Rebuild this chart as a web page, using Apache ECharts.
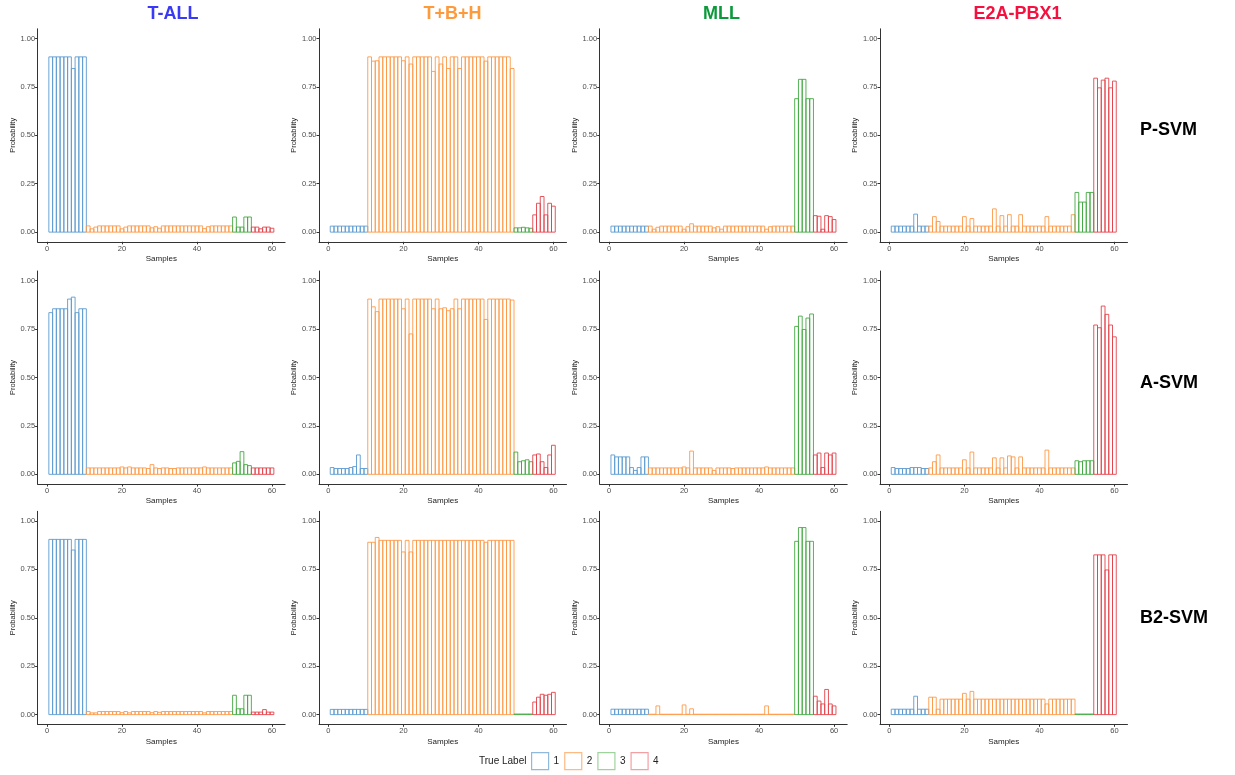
<!DOCTYPE html>
<html><head><meta charset="utf-8">
<script src="https://cdn.jsdelivr.net/npm/echarts@6/dist/echarts.min.js"></script>
<style>html,body{margin:0;padding:0;background:#fff}#c{width:1235px;height:775px}</style>
</head><body><div id="c"></div>
<script>
const samples = [1,2,3,4,5,6,7,8,9,10,11,12,13,14,15,16,17,18,19,20,21,22,23,24,25,26,27,28,29,30,31,32,33,34,35,36,37,38,39,40,41,42,43,44,45,46,47,48,49,50,51,52,53,54,55,56,57,58,59,60];
const trueLabel = [1,1,1,1,1,1,1,1,1,1,
  2,2,2,2,2,2,2,2,2,2,2,2,2,2,2,2,2,2,2,2,2,2,2,2,2,2,2,2,2,2,2,2,2,2,2,2,2,2,2,
  3,3,3,3,3, 4,4,4,4,4,4];
const columnTitles = ['T-ALL','T+B+H','MLL','E2A-PBX1'];
const rowTitles = ['P-SVM','A-SVM','B2-SVM'];
const legendLabels = ['1','2','3','4'];
const xTicks = [0,20,40,60];
const yTicks = [0,0.25,0.5,0.75,1];

// P-SVM
const pSVM_TALL = [0.905,0.905,0.905,0.905,0.905,0.905,0.845,0.905,0.905,0.905,
  0.032,0.017,0.026,0.032,0.032,0.032,0.032,0.032,0.032,0.017,0.026,0.032,0.032,0.032,0.032,0.032,0.032,0.022,0.028,0.020,
  0.032,0.032,0.032,0.032,0.032,0.032,0.032,0.032,0.032,0.032,0.032,0.018,0.028,0.032,0.032,0.032,0.032,0.032,0.032,
  0.078,0.026,0.026,0.078,0.078, 0.026,0.026,0.017,0.026,0.026,0.020];
const pSVM_TBH = [0.031,0.031,0.031,0.031,0.031,0.031,0.031,0.031,0.031,0.031,
  0.905,0.883,0.885,0.905,0.905,0.905,0.905,0.905,0.905,0.885,0.905,0.868,0.905,0.905,0.905,0.905,0.905,0.830,0.905,0.868,
  0.905,0.845,0.905,0.905,0.845,0.905,0.905,0.905,0.905,0.905,0.905,0.883,0.905,0.905,0.905,0.905,0.905,0.905,0.845,
  0.022,0.022,0.025,0.022,0.020, 0.089,0.149,0.184,0.089,0.149,0.134];
const pSVM_MLL = [0.031,0.031,0.031,0.031,0.031,0.031,0.031,0.031,0.031,0.031,
  0.031,0.015,0.025,0.031,0.031,0.031,0.031,0.031,0.031,0.015,0.028,0.043,0.031,0.031,0.031,0.031,0.031,0.022,0.028,0.015,
  0.031,0.031,0.031,0.031,0.031,0.031,0.031,0.031,0.031,0.031,0.031,0.015,0.028,0.031,0.031,0.031,0.031,0.031,0.031,
  0.689,0.789,0.789,0.689,0.689, 0.085,0.082,0.015,0.085,0.080,0.065];
const pSVM_E2A = [0.031,0.031,0.031,0.031,0.031,0.031,0.093,0.031,0.031,0.031,
  0.031,0.080,0.055,0.031,0.031,0.031,0.031,0.031,0.031,0.080,0.031,0.070,0.031,0.031,0.031,0.031,0.031,0.120,0.031,0.085,
  0.031,0.090,0.031,0.031,0.090,0.031,0.031,0.031,0.031,0.031,0.031,0.080,0.031,0.031,0.031,0.031,0.031,0.031,0.090,
  0.205,0.155,0.155,0.205,0.205, 0.795,0.745,0.785,0.795,0.745,0.780];
// A-SVM
const aSVM_TALL = [0.835,0.855,0.855,0.855,0.855,0.905,0.915,0.835,0.855,0.855,
  0.033,0.033,0.033,0.033,0.033,0.033,0.033,0.033,0.033,0.038,0.033,0.038,0.033,0.033,0.033,0.033,0.030,0.050,0.033,0.030,
  0.033,0.033,0.030,0.030,0.033,0.033,0.033,0.033,0.033,0.033,0.033,0.038,0.033,0.033,0.033,0.033,0.033,0.033,0.033,
  0.059,0.067,0.117,0.050,0.045, 0.033,0.033,0.033,0.033,0.033,0.033];
const aSVM_TBH = [0.035,0.030,0.030,0.030,0.030,0.035,0.040,0.100,0.030,0.030,
  0.905,0.865,0.840,0.905,0.905,0.905,0.905,0.905,0.905,0.855,0.905,0.725,0.905,0.905,0.905,0.905,0.905,0.855,0.905,0.855,
  0.860,0.845,0.855,0.905,0.855,0.905,0.905,0.905,0.905,0.905,0.905,0.800,0.905,0.905,0.905,0.905,0.905,0.905,0.900,
  0.115,0.065,0.070,0.075,0.065, 0.100,0.105,0.065,0.035,0.100,0.150];
const aSVM_MLL = [0.100,0.090,0.090,0.090,0.090,0.035,0.020,0.035,0.090,0.090,
  0.033,0.033,0.033,0.033,0.033,0.033,0.033,0.033,0.033,0.038,0.033,0.120,0.033,0.033,0.033,0.033,0.033,0.020,0.033,0.033,
  0.033,0.033,0.030,0.033,0.033,0.033,0.033,0.033,0.033,0.033,0.033,0.038,0.033,0.033,0.033,0.033,0.033,0.033,0.033,
  0.764,0.817,0.748,0.807,0.828, 0.100,0.110,0.035,0.110,0.100,0.110];
const aSVM_E2A = [0.035,0.030,0.030,0.030,0.030,0.035,0.035,0.035,0.030,0.030,
  0.033,0.065,0.100,0.033,0.033,0.033,0.033,0.033,0.033,0.075,0.033,0.115,0.033,0.033,0.033,0.033,0.033,0.085,0.033,0.085,
  0.033,0.095,0.090,0.033,0.090,0.033,0.033,0.033,0.033,0.033,0.033,0.125,0.033,0.033,0.033,0.033,0.033,0.033,0.033,
  0.070,0.065,0.070,0.070,0.070, 0.771,0.757,0.869,0.826,0.771,0.710];
// B2-SVM
const b2SVM_TALL = [0.905,0.905,0.905,0.905,0.905,0.905,0.850,0.905,0.905,0.905,
  0.016,0.009,0.009,0.016,0.016,0.016,0.016,0.016,0.016,0.010,0.016,0.009,0.016,0.016,0.016,0.016,0.016,0.010,0.016,0.012,
  0.016,0.016,0.016,0.016,0.016,0.016,0.016,0.016,0.016,0.016,0.016,0.009,0.016,0.016,0.016,0.016,0.016,0.016,0.016,
  0.100,0.030,0.030,0.100,0.100, 0.013,0.013,0.013,0.026,0.013,0.013];
const b2SVM_TBH = [0.027,0.027,0.027,0.027,0.027,0.027,0.027,0.027,0.027,0.027,
  0.890,0.890,0.915,0.900,0.900,0.900,0.900,0.900,0.900,0.840,0.900,0.840,0.900,0.900,0.900,0.900,0.900,0.900,0.900,0.900,
  0.900,0.900,0.900,0.900,0.900,0.900,0.900,0.900,0.900,0.900,0.900,0.890,0.900,0.900,0.900,0.900,0.900,0.900,0.900,
  0.003,0.003,0.003,0.003,0.003, 0.065,0.090,0.105,0.100,0.105,0.115];
const b2SVM_MLL = [0.028,0.028,0.028,0.028,0.028,0.028,0.028,0.028,0.028,0.028,
  0.002,0.002,0.045,0.002,0.002,0.002,0.002,0.002,0.002,0.050,0.002,0.030,0.002,0.002,0.002,0.002,0.002,0.002,0.002,0.002,
  0.002,0.002,0.002,0.002,0.002,0.002,0.002,0.002,0.002,0.002,0.002,0.045,0.002,0.002,0.002,0.002,0.002,0.002,0.002,
  0.895,0.966,0.966,0.895,0.895, 0.095,0.070,0.055,0.130,0.055,0.045];
const b2SVM_E2A = [0.028,0.028,0.028,0.028,0.028,0.028,0.095,0.028,0.028,0.028,
  0.090,0.090,0.028,0.080,0.080,0.080,0.080,0.080,0.080,0.110,0.080,0.120,0.080,0.080,0.080,0.080,0.080,0.080,0.080,0.080,
  0.080,0.080,0.080,0.080,0.080,0.080,0.080,0.080,0.080,0.080,0.080,0.055,0.080,0.080,0.080,0.080,0.080,0.080,0.080,
  0.003,0.003,0.003,0.003,0.003, 0.825,0.825,0.825,0.747,0.825,0.825];

const panels = [
  [pSVM_TALL, pSVM_TBH, pSVM_MLL, pSVM_E2A],
  [aSVM_TALL, aSVM_TBH, aSVM_MLL, aSVM_E2A],
  [b2SVM_TALL, b2SVM_TBH, b2SVM_MLL, b2SVM_E2A]
];

const FONT = '"Liberation Sans", Arial, Helvetica, sans-serif';
const classColors = ['#5b9bd0', '#fd9a47', '#43a843', '#e3434b'];
const legendColors = ['#8fb9dd', '#fdbb84', '#9fd39c', '#f2a0a3'];
const titleColors = ['#3a3af5', '#fd9a3c', '#0a9a3a', '#f5103f'];
const gridLefts = [37.6, 319, 599.7, 880];
const gridTops = [28.8, 271, 511.3];
const gridW = 247.5, gridH = 213;
const titleCenters = [173, 452.5, 721.5, 1017.5];
const rowLabelY = [130, 383, 618];

const grids = [], xAxes = [], yAxes = [], series = [];
function renderBar(params, api) {
  const x = api.value(0), y = api.value(1);
  const p0 = api.coord([x - 0.5, y]);
  const p1 = api.coord([x + 0.5, 0]);
  return {
    type: 'rect',
    shape: { x: p0[0], y: p0[1], width: p1[0] - p0[0], height: p1[1] - p0[1] },
    style: { fill: 'none', stroke: api.visual('color'), lineWidth: 0.9 }
  };
}
for (let r = 0; r < 3; r++) {
  for (let c = 0; c < 4; c++) {
    const idx = r * 4 + c;
    grids.push({ left: gridLefts[c], top: gridTops[r], width: gridW, height: gridH, containLabel: false, outerBoundsMode: 'none' });
    xAxes.push({
      type: 'value', gridIndex: idx, min: -2.5, max: 63.5,
      name: 'Samples', nameLocation: 'middle', nameGap: 13,
      nameTextStyle: { fontSize: 8, color: '#222', fontFamily: FONT },
      axisLine: { onZero: false, lineStyle: { color: '#333', width: 1 } },
      axisTick: { show: true, length: 2.5, customValues: xTicks, lineStyle: { color: '#333' } },
      axisLabel: { customValues: xTicks, fontSize: 7.5, color: '#4d4d4d', margin: 3, fontFamily: FONT },
      splitLine: { show: false }
    });
    yAxes.push({
      type: 'value', gridIndex: idx, min: -0.05, max: 1.05,
      name: 'Probability', nameLocation: 'middle', nameGap: 21, nameRotate: 90,
      nameTextStyle: { fontSize: 7.5, color: '#222', fontFamily: FONT },
      axisLine: { show: true, onZero: false, lineStyle: { color: '#333', width: 1 } },
      axisTick: { show: true, length: 2.5, customValues: yTicks, lineStyle: { color: '#333' } },
      axisLabel: { customValues: yTicks, fontSize: 7.5, color: '#4d4d4d', margin: 2.5, fontFamily: FONT,
        formatter: v => Number(v).toFixed(2) },
      splitLine: { show: false }
    });
    const vals = panels[r][c];
    for (let k = 0; k < 4; k++) {
      const data = [];
      samples.forEach((s, i) => { if (trueLabel[i] === k + 1) data.push([s, vals[i]]); });
      series.push({
        type: 'custom', name: legendLabels[k], xAxisIndex: idx, yAxisIndex: idx,
        renderItem: renderBar, data: data, encode: { x: 0, y: 1 },
        itemStyle: { color: classColors[k] }, silent: true, animation: false, clip: false
      });
    }
  }
}

const graphics = [];
columnTitles.forEach((t, c) => {
  graphics.push({ type: 'text', x: titleCenters[c], y: 14.5,
    style: { text: t, fill: titleColors[c], font: 'bold 18px ' + FONT, textAlign: 'center', textVerticalAlign: 'middle' } });
});
rowTitles.forEach((t, r) => {
  graphics.push({ type: 'text', x: 1140, y: rowLabelY[r],
    style: { text: t, fill: '#000', font: 'bold 18px ' + FONT, textAlign: 'left', textVerticalAlign: 'middle' } });
});
graphics.push({ type: 'text', x: 479, y: 761,
  style: { text: 'True Label', fill: '#222', font: '10px ' + FONT, textAlign: 'left', textVerticalAlign: 'middle' } });

const chart = echarts.init(document.getElementById('c'), null, { renderer: 'canvas' });
chart.setOption({
  backgroundColor: '#fff',
  animation: false,
  textStyle: { fontFamily: FONT },
  grid: grids, xAxis: xAxes, yAxis: yAxes, series: series,
  legend: {
    left: 531, top: 752, padding: 0, orient: 'horizontal', itemWidth: 17, itemHeight: 17, itemGap: 5,
    icon: 'rect', selectedMode: false,
    textStyle: { fontSize: 10, color: '#222', fontFamily: FONT },
    data: legendLabels.map((n, k) => ({ name: n, itemStyle: { color: '#fff', borderColor: legendColors[k], borderWidth: 1.2 } }))
  },
  graphic: graphics
});
</script></body></html>
